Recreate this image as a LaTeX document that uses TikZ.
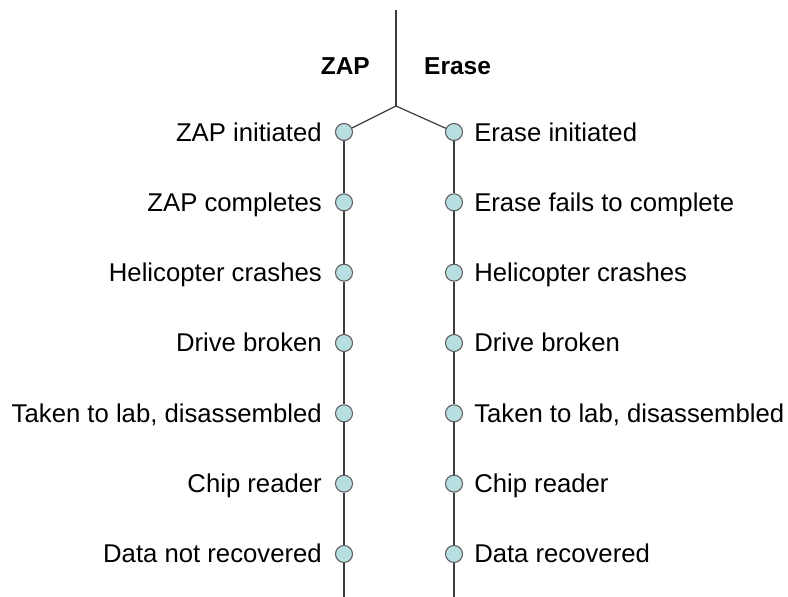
\documentclass[tikz,border=0pt]{standalone}
\usepackage{fontspec}
\setmainfont{Liberation Sans}
\usetikzlibrary{positioning}
\definecolor{stem}{HTML}{3C3C3C}
\definecolor{dotfill}{HTML}{B7DFE1}
\definecolor{dotline}{HTML}{606060}
\tikzset{
  dot/.style={circle, draw=dotline, line width=1.1pt, fill=dotfill,
    minimum size=17pt, inner sep=0pt},
  branch/.style={draw=stem, line width=1.2pt},
  lab/.style={font=\fontsize{25.7pt}{30pt}\selectfont, inner sep=0pt},
  head/.style={font=\fontsize{24.5pt}{29pt}\selectfont\bfseries, inner sep=0pt},
}

\begin{document}
\begin{tikzpicture}[x=1pt, y=-1pt]
    \useasboundingbox (0,0) rectangle (788,597);
    \coordinate (top) at (396,10);
    \coordinate (fork) at (396,106);
    \coordinate (zend) at (344,597);
    \coordinate (eend) at (454,597);
    \node[head, anchor=east] (zap) at (370,66) {ZAP};
    \node[head, anchor=west] (erase) at (424,66) {Erase};
    % two timelines, one event per row
    \foreach \i/\zl/\el in {1/ZAP initiated/Erase initiated,
        2/ZAP completes/Erase fails to complete,
        3/Helicopter crashes/Helicopter crashes,
        4/Drive broken/Drive broken,
        5/{Taken to lab, disassembled}/{Taken to lab, disassembled},
        6/Chip reader/Chip reader,
        7/Data not recovered/Data recovered}
    {
      \pgfmathsetmacro{\y}{132+(\i-1)*70.33}
      \node[dot] (z\i) at (344,\y) {};
      \node[dot] (e\i) at (454,\y) {};
      \node[lab, left=13pt of z\i, anchor=base east, yshift=-9pt] (zl\i) {\zl};
      \node[lab, right=11pt of e\i, anchor=base west, yshift=-9pt] (el\i) {\el};
    }
    \draw[branch] (top) -- (fork);
    \draw[branch] (fork) -- (z1);
    \draw[branch] (fork) -- (e1);
    \foreach \i [count=\j from 2] in {1,...,6} {
      \draw[branch] (z\i) -- (z\j);
      \draw[branch] (e\i) -- (e\j);
    }
    \draw[branch] (z7) -- (zend);
    \draw[branch] (e7) -- (eend);
  \end{tikzpicture}
\end{document}
